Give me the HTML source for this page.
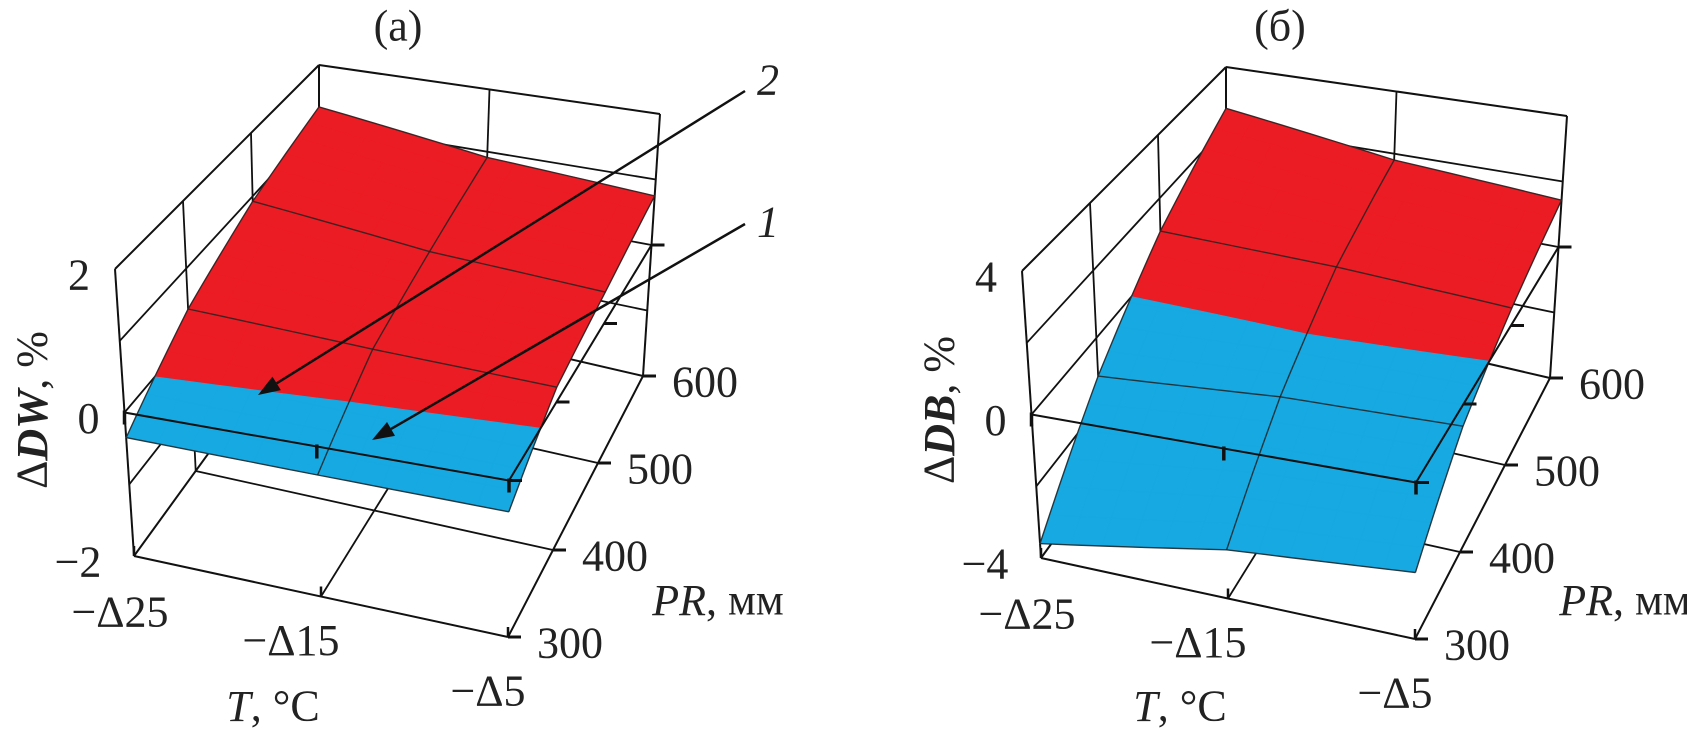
<!DOCTYPE html>
<html><head><meta charset="utf-8"><style>
html,body{margin:0;padding:0;background:#fff;}
svg{display:block;font-family:"Liberation Serif",serif;}
</style></head><body>
<svg id="chart" width="1687" height="733" viewBox="0 0 1687 733" xmlns="http://www.w3.org/2000/svg"></svg>
<script>
// ---- data ----
const tValues = [-25, -15, -5];
const prValues = [300, 400, 500, 600];
const tTickLabels = ["\u2212\u039425", "\u2212\u039415", "\u2212\u03945"];
const prTickLabels = ["300", "400", "500", "600"];
const zTicksA = [-2, 0, 2];
const zTicksB = [-4, 0, 4];
// panel (a) surface rows: PR 300..600, columns T -25..-5
const surfA2 = [
  [-0.35, -0.38, -0.4],
  [0.4, 0.28, 0.2],
  [0.92, 0.6, 0.45],
  [1.29, 0.91, 0.75]
];
// panel (b) surface
const surfB = [
  [-3.6, -2.7, -2.3],
  [-1.13, -0.73, -0.6],
  [0.96, 0.8, 0.5],
  [2.6, 1.8, 1.43]
];

const NS = "http://www.w3.org/2000/svg";
const svg = document.getElementById('chart');
const FS = 44;
function el(tag, attrs, parent) {
  const e = document.createElementNS(NS, tag);
  for (const k in attrs) e.setAttribute(k, attrs[k]);
  (parent || svg).appendChild(e);
  return e;
}
const baseCorners = {
  c000: [134, 556], c100: [508, 637], c010: [319, 301], c110: [643, 376],
  c001: [115, 269], c101: [510, 324], c011: [319, 65], c111: [660, 114]
};
function makeProj(dx, dy) {
  const C = {};
  for (const k in baseCorners) C[k] = [baseCorners[k][0] + dx, baseCorners[k][1] + dy];
  return function (t, p, z) {
    const r = [0, 0];
    for (let i = 0; i < 2; i++) {
      const b0 = C.c000[i] * (1 - t) * (1 - p) + C.c100[i] * t * (1 - p) + C.c010[i] * (1 - t) * p + C.c110[i] * t * p;
      const b1 = C.c001[i] * (1 - t) * (1 - p) + C.c101[i] * t * (1 - p) + C.c011[i] * (1 - t) * p + C.c111[i] * t * p;
      r[i] = b0 * (1 - z) + b1 * z;
    }
    return r;
  };
}
function line(g, a, b, w, name) {
  const l = el('line', { x1: a[0].toFixed(1), y1: a[1].toFixed(1), x2: b[0].toFixed(1), y2: b[1].toFixed(1), stroke: '#111', 'stroke-width': w || 2 }, g);
  
  
  return l;
}
function text(g, x, y, s, opts, name) {
  const t = el('text', Object.assign({ x: x, y: y, 'font-size': FS, fill: '#222', 'text-anchor': 'middle', 'dominant-baseline': 'central' }, opts || {}), g);
  t.innerHTML = s;
  
  
  return t;
}
// clip polygon of {fi,fj,z} vertices by sign
function clip(poly, keepPos) {
  const out = [];
  const inside = v => keepPos ? v.z >= 0 : v.z < 0;
  for (let k = 0; k < poly.length; k++) {
    const a = poly[k], b = poly[(k + 1) % poly.length];
    const ia = inside(a), ib = inside(b);
    if (ia) out.push(a);
    if (ia !== ib) {
      const s = a.z / (a.z - b.z);
      out.push({ fi: a.fi + (b.fi - a.fi) * s, fj: a.fj + (b.fj - a.fj) * s, z: 0 });
    }
  }
  return out;
}

function drawPanel(dx, dy, zmin, zmax, zTicks, surfaces, zTitle, title, titleX) {
  const g = el('g', {});
  
  
  const P = makeProj(dx, dy);
  const tu = v => (v - tValues[0]) / (tValues[tValues.length - 1] - tValues[0]);
  const pu = v => (v - prValues[0]) / (prValues[prValues.length - 1] - prValues[0]);
  const zu = v => (v - zmin) / (zmax - zmin);
  line(g, P(0, 0, 0), P(0, 0, 1), 2, 'box-edge');
  line(g, P(0, 1, 0), P(0, 1, 1), 2, 'box-edge');
  line(g, P(0, 0, 1), P(0, 1, 1), 2, 'box-edge');
  line(g, P(0, 0, 0), P(0, 1, 0), 2, 'box-edge');
  for (const pr of prValues.slice(1, -1)) line(g, P(0, pu(pr), 0), P(0, pu(pr), 1), 1.8, 'left-wall-grid');
  for (let k = 1; k < 4; k++) line(g, P(0, 0, k / 4), P(0, 1, k / 4), 1.8, 'left-wall-grid');
  line(g, P(0, 1, 1), P(1, 1, 1), 2, 'box-edge');
  line(g, P(1, 1, 0), P(1, 1, 1), 2, 'box-edge');
  line(g, P(0, 1, 0), P(1, 1, 0), 2, 'box-edge');
  line(g, P(0.5, 1, 0), P(0.5, 1, 1), 1.8, 'back-wall-grid');
  for (let k = 1; k < 4; k++) line(g, P(0, 1, k / 4), P(1, 1, k / 4), 1.8, 'back-wall-grid');
  line(g, P(0, 0, 0), P(1, 0, 0), 2, 'box-edge');
  line(g, P(1, 0, 0), P(1, 1, 0), 2, 'box-edge');
  line(g, P(0.5, 0, 0), P(0.5, 1, 0), 1.8, 'floor-grid');
  for (const pr of prValues.slice(1, -1)) line(g, P(0, pu(pr), 0), P(1, pu(pr), 0), 1.8, 'floor-grid');
  prValues.forEach((pr, i) => {
    const a = P(1, pu(pr), 0);
    line(g, a, [a[0] + 13, a[1]], 3, 'pr-tick');
    text(g, a[0] + 62, a[1] + 6, prTickLabels[i], {}, 'pr-tick-label');
  });
  tValues.forEach(tv => {
    const a = P(tu(tv), 0, 0);
    line(g, a, [a[0], a[1] - 10], 2.5, 't-tick');
  });
  const tl = [[-14, 56], [-30, 44], [-20, 54]];
  tValues.forEach((tv, i) => {
    const a = P(tu(tv), 0, 0);
    text(g, a[0] + tl[i][0], a[1] + tl[i][1], tTickLabels[i], {}, 't-tick-label');
  });
  const N = 6;
  surfaces.forEach((S, si) => {
    const sg = el('g', {}, g);
    
    
    const zAt = (fi, fj) => {
      const i0 = Math.min(Math.floor(fi), prValues.length - 2), j0 = Math.min(Math.floor(fj), tValues.length - 2);
      const a = fi - i0, b = fj - j0;
      return S[i0][j0] * (1 - a) * (1 - b) + S[i0 + 1][j0] * a * (1 - b) + S[i0][j0 + 1] * (1 - a) * b + S[i0 + 1][j0 + 1] * a * b;
    };
    const prAt = fi => prValues[0] + (prValues[prValues.length - 1] - prValues[0]) * fi / (prValues.length - 1);
    const tAt = fj => tValues[0] + (tValues[tValues.length - 1] - tValues[0]) * fj / (tValues.length - 1);
    const pt = (fi, fj) => P(tu(tAt(fj)), pu(prAt(fi)), zu(zAt(fi, fj)));
    const I = (prValues.length - 1) * N, J = (tValues.length - 1) * N;
    for (let a = I - 1; a >= 0; a--) {
      for (let b = 0; b < J; b++) {
        const fi0 = a / N, fi1 = (a + 1) / N, fj0 = b / N, fj1 = (b + 1) / N;
        const verts = [[fi0, fj0], [fi0, fj1], [fi1, fj1], [fi1, fj0]].map(v => ({ fi: v[0], fj: v[1], z: zAt(v[0], v[1]) }));
        [[true, '#ec1c24'], [false, '#17a9e1']].forEach(([pos, col]) => {
          const cp = clip(verts, pos);
          if (cp.length < 3) return;
          const pts = cp.map(v => { const q = pt(v.fi, v.fj); return q[0].toFixed(1) + ',' + q[1].toFixed(1); }).join(' ');
          const poly = el('polygon', { points: pts, fill: col, stroke: col, 'stroke-width': 0.8 }, sg);
          
          
        });
      }
    }
    for (let i = 0; i < prValues.length; i++) {
      let d = '';
      for (let b = 0; b <= J; b++) { const q = pt(i, b / N); d += (b ? 'L' : 'M') + q[0].toFixed(1) + ' ' + q[1].toFixed(1); }
      const pth = el('path', { d: d, fill: 'none', stroke: '#222', 'stroke-width': 1.4, 'stroke-opacity': 0.85 }, sg);
      
      
    }
    for (let j = 0; j < tValues.length; j++) {
      let d = '';
      for (let a = 0; a <= I; a++) { const q = pt(a / N, j); d += (a ? 'L' : 'M') + q[0].toFixed(1) + ' ' + q[1].toFixed(1); }
      const pth = el('path', { d: d, fill: 'none', stroke: '#222', 'stroke-width': 1.4, 'stroke-opacity': 0.85 }, sg);
      
      
    }
  });
  const z0 = zu(0);
  line(g, P(0, 0, z0), P(1, 0, z0), 2, 'zero-axis-t');
  line(g, P(1, 0, z0), P(1, 1, z0), 2, 'zero-axis-pr');
  tValues.forEach(tv => { const a = P(tu(tv), 0, z0); line(g, [a[0], a[1] - 2], [a[0], a[1] + 12], 3.5, 'zero-t-tick'); });
  prValues.forEach(pr => { const a = P(1, pu(pr), z0); line(g, a, [a[0] + 13, a[1]], 3, 'zero-pr-tick'); });
  zTicks.forEach(zv => {
    const a = P(0, 0, zu(zv));
    text(g, a[0] - (zv < 0 ? 56 : 36), a[1] + 6, zv < 0 ? '\u2212' + Math.abs(zv) : String(zv), {}, 'z-tick-label');
  });
  text(g, titleX, 26, '(' + title + ')', {}, 'panel-title');
  text(g, 0, 0, '\u0394<tspan font-style="italic" font-weight="bold">' + zTitle + '</tspan>, %', { transform: 'translate(' + (dx + 32) + ',410) rotate(-90)' }, 'z-axis-title');
  text(g, dx + 273, 706, '<tspan font-style="italic">T</tspan>, \u00b0C', {}, 't-axis-title');
  text(g, dx + 718, 600, '<tspan font-style="italic">PR</tspan>, мм', {}, 'pr-axis-title');
  return g;
}

drawPanel(0, 0, -2, 2, zTicksA, [surfA2], 'DW', 'a', 398);
drawPanel(907, 2, -4, 4, zTicksB, [surfB], 'DB', '\u0431', 1280);

function arrow(x1, y1, x2, y2, name) {
  const ang = Math.atan2(y2 - y1, x2 - x1), L = 22, W = 8;
  const bx = x2 - L * Math.cos(ang), by = y2 - L * Math.sin(ang);
  const ln = el('line', { x1: x1, y1: y1, x2: bx, y2: by, stroke: '#111', 'stroke-width': 2.5 });
  
  
  const px = -Math.sin(ang) * W, py = Math.cos(ang) * W;
  const hd = el('polygon', { points: x2 + ',' + y2 + ' ' + (bx + px) + ',' + (by + py) + ' ' + (bx - px) + ',' + (by - py), fill: '#111' });
  
  
}
arrow(745, 91, 258, 395, 'arrow-2');
arrow(745, 224, 372, 440, 'arrow-1');
text(svg, 768, 80, '2', { 'font-style': 'italic' }, 'label-curve-2');
text(svg, 768, 222, '1', { 'font-style': 'italic' }, 'label-curve-1');
</script>
</body></html>
